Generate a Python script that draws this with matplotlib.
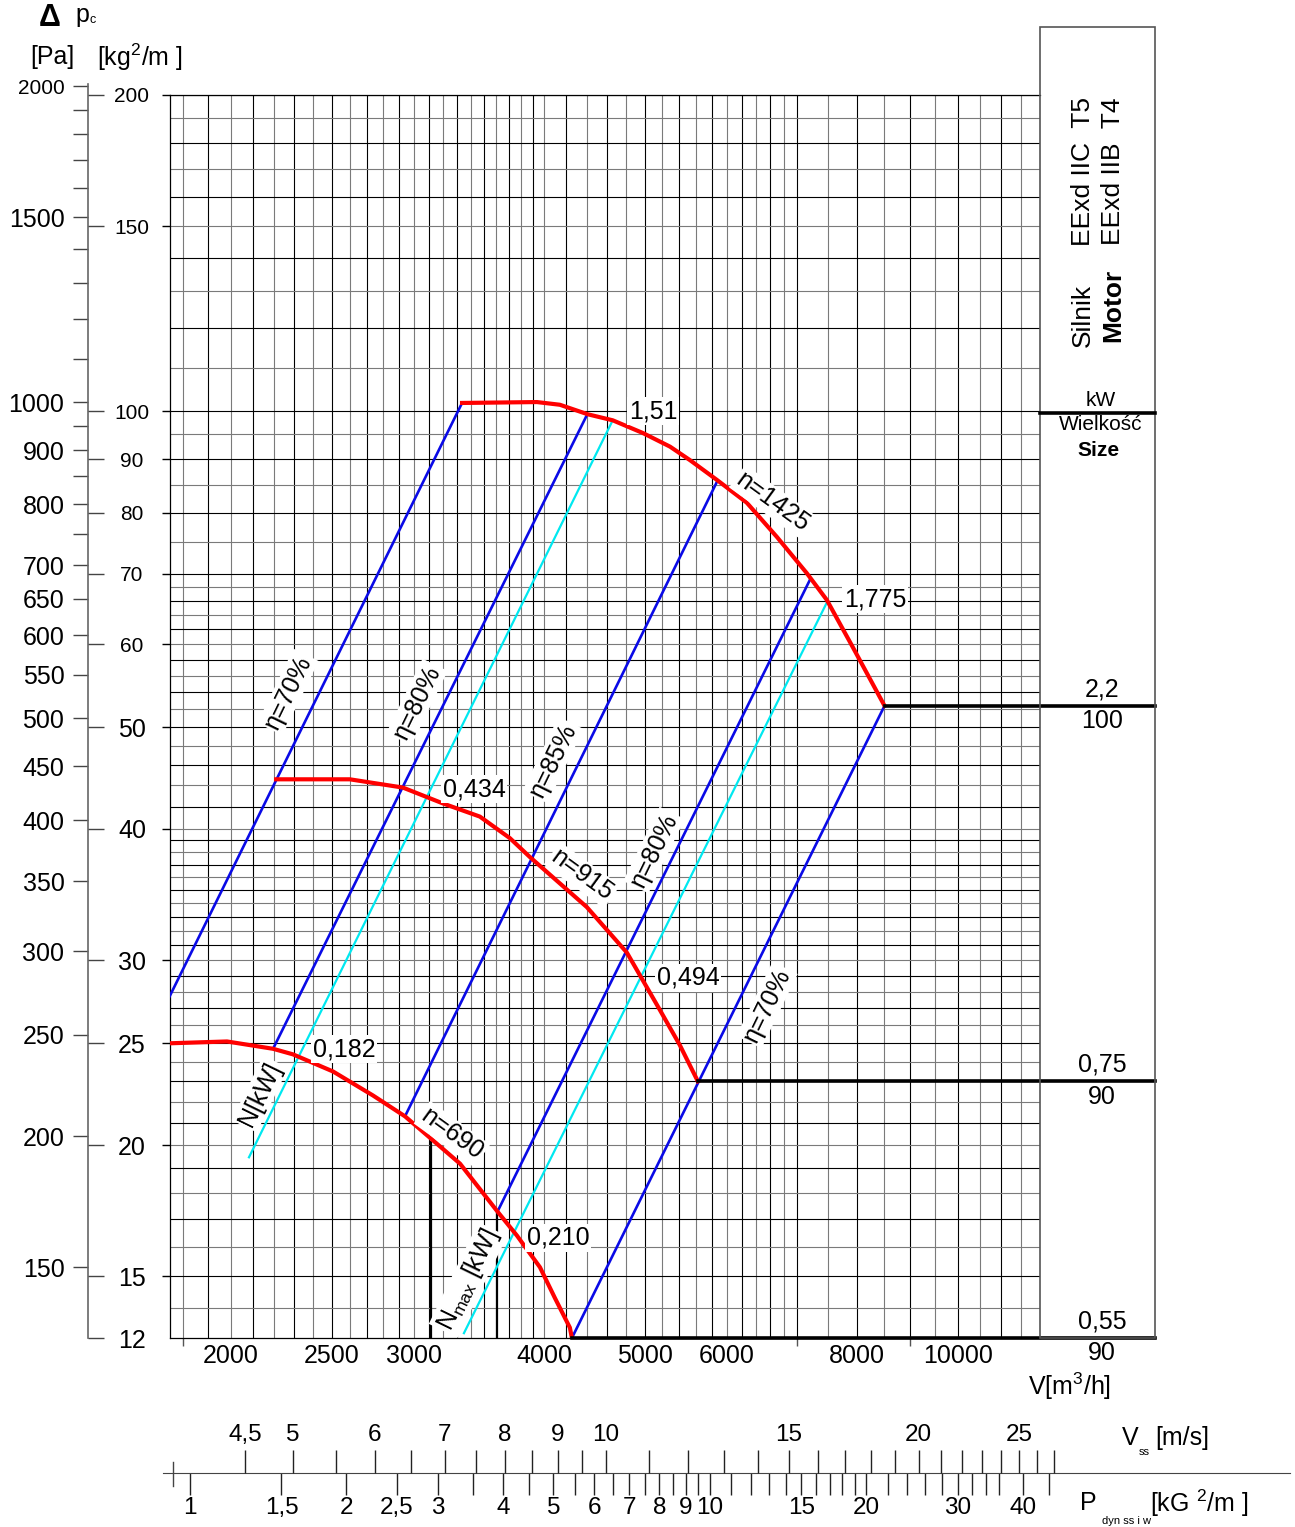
import numpy as np
import matplotlib
matplotlib.use('Agg')
import matplotlib.pyplot as plt
from matplotlib.patches import Rectangle
from matplotlib.lines import Line2D
from matplotlib.ticker import FixedLocator, NullLocator, FixedFormatter, NullFormatter

plt.rcParams['font.family'] = ['Liberation Sans', 'DejaVu Sans']
plt.rcParams['mathtext.fontset'] = 'custom'
plt.rcParams['mathtext.rm'] = 'Liberation Sans'
plt.rcParams['mathtext.it'] = 'Liberation Sans:italic'
plt.rcParams['mathtext.bf'] = 'Liberation Sans:bold'

# --- fan curves: V [m3/h], pc [kg/m2] ---
n1425_v = [3336, 3938, 4143, 4408, 4658, 4980, 5288, 5527, 5866, 6268, 6699, 7158, 7483, 7926, 8504]
n1425_p = [101.8, 102.0, 101.4, 99.3, 98.0, 95.3, 92.5, 89.8, 86.0, 81.8, 75.9, 70.1, 66.1, 59.6, 52.4]

n915_v = [2210, 2602, 2926, 3198, 3470, 3709, 3878, 4398, 4806, 5170, 5404, 5624]
n915_p = [44.6, 44.6, 43.8, 42.3, 41.1, 39.2, 37.6, 33.7, 30.5, 26.9, 24.9, 23.0]

n690_v = [1747, 1982, 2195, 2294, 2507, 2738, 2940, 3129, 3321, 3606, 3767, 3964, 4098, 4236, 4255]
n690_p = [25.0, 25.1, 24.7, 24.4, 23.5, 22.3, 21.3, 20.2, 19.2, 17.3, 16.4, 15.3, 14.3, 13.4, 13.1]

# efficiency lines (blue) and power lines (cyan), end points
eta_lines_v = [[1739, 3336], [2195, 4398], [2940, 5866], [3610, 7205], [4255, 8504]]
eta_lines_p = [[27.5, 101.8], [24.7, 99.1], [21.3, 85.6], [17.3, 69.0], [13.1, 52.4]]
pow_lines_v = [[2081, 4648], [3350, 7483]]
pow_lines_p = [[19.47, 97.6], [13.24, 65.7]]

# Nmax markers
nmax_v = [3114, 3606]
nmax_p = [20.2, 17.3]

# motor rows
motor_v = [8504, 5624, 4255]
motor_p = [52.4, 23.0, 13.1]
motor_kw = ['2,2', '0,75', '0,55']
motor_size = ['100', '90', '90']

# axes
V_MIN, V_MAX = 1747, 12000
P_MIN, P_MAX = 13.1, 200          # bottom edge is labelled "12" on the original
x_labels = [2000, 2500, 3000, 4000, 5000, 6000, 8000, 10000]
x_small_ticks = [1800, 5000, 7000, 9000]
kg_ticks = [15, 20, 25, 30, 40, 50, 60, 70, 80, 90, 100, 150, 200]
pa_ticks = [2000, 1900, 1800, 1700, 1600, 1500, 1400, 1300, 1200, 1100, 1000, 950, 900,
            850, 800, 750, 700, 650, 600, 550, 500, 450, 400, 350, 300, 250, 200, 150]
pa_labeled = [2000, 1500, 1000, 900, 800, 700, 650, 600, 550, 500, 450, 400, 350, 300, 250, 200, 150]
grid_v = list(range(1800, 4001, 100)) + list(range(4200, 7001, 200)) + list(range(7500, 11501, 500))
grid_p = list(range(14, 41)) + list(range(42, 71, 2)) + [75, 80, 85, 90, 95] + list(range(100, 201, 10))

# bottom scales
VSS_REF = 458.5      # m3/h per 1 m/s
PDYN_REF = 1826      # m3/h at 1 kG/m2
vss_ticks = list(np.arange(4.5, 10.01, 0.5)) + list(range(11, 28))
vss_labels = {4.5: '4,5', 5: '5', 6: '6', 7: '7', 8: '8', 9: '9', 10: '10', 15: '15', 20: '20', 25: '25'}
pdyn_ticks = list(np.arange(1, 10.01, 0.5)) + list(range(11, 21)) + list(range(22, 37, 2)) + [40, 45]
pdyn_labels = {1: '1', 1.5: '1,5', 2: '2', 2.5: '2,5', 3: '3', 4: '4', 5: '5', 6: '6', 7: '7',
               8: '8', 9: '9', 10: '10', 15: '15', 20: '20', 30: '30', 40: '40'}

W, H = 1295, 1527
fig = plt.figure(figsize=(W / 100, H / 100), dpi=100)


def fx(px):
    return px / W


def fy(py):
    return 1 - py / H


AX_L, AX_R, AX_T, AX_B = 170, 1040, 95, 1338
DX = np.log10(V_MAX / V_MIN) / (AX_R - AX_L)
DY = np.log10(P_MAX / P_MIN) / (AX_B - AX_T)


def v_at(px):
    return V_MIN * 10 ** ((px - AX_L) * DX)


def p_at(py):
    return P_MIN * 10 ** ((AX_B - py) * DY)


def put(x, y, s, size=18, **kw):
    kw.setdefault('ha', 'center')
    kw.setdefault('va', 'center')
    return fig.text(fx(x), fy(y), s, fontsize=size, **kw)


WB = dict(fc='white', ec='none', pad=1.5)

# ---------------- main chart ----------------
ax = fig.add_axes([fx(AX_L), fy(AX_B), (AX_R - AX_L) / W, (AX_B - AX_T) / H])
ax.set_xscale('log')
ax.set_yscale('log')
ax.set_xlim(V_MIN, V_MAX)
ax.set_ylim(P_MIN, P_MAX)

for i, v in enumerate(grid_v):
    ax.axvline(v, color='#000000' if i % 2 else '#7a7a7a', lw=0.8, zorder=1)
for i, p in enumerate(grid_p):
    ax.axhline(p, color='#000000' if i % 2 else '#7a7a7a', lw=0.8, zorder=1)

ax.xaxis.set_major_locator(FixedLocator(x_labels))
ax.xaxis.set_major_formatter(FixedFormatter([str(v) for v in x_labels]))
ax.xaxis.set_minor_locator(FixedLocator(x_small_ticks))
ax.xaxis.set_minor_formatter(NullFormatter())
ax.tick_params(axis='x', which='major', length=0, pad=4, labelsize=18)
ax.tick_params(axis='x', which='minor', length=6, width=1, color='#555555')
ax.yaxis.set_major_locator(FixedLocator(kg_ticks))
ax.yaxis.set_minor_locator(NullLocator())
ax.tick_params(axis='y', which='major', length=6, width=1, labelleft=False)
for s in ['top', 'left', 'bottom']:
    ax.spines[s].set_linewidth(0.9)
ax.spines['right'].set_visible(False)

for vv, pp in zip(eta_lines_v, eta_lines_p):
    ax.plot(vv, pp, color='#0a0ae6', lw=1.9, zorder=3)
for vv, pp in zip(pow_lines_v, pow_lines_p):
    ax.plot(vv, pp, color='#00e8f0', lw=1.6, zorder=3)
for vv, pp in [(n1425_v, n1425_p), (n915_v, n915_p), (n690_v, n690_p)]:
    ax.plot(vv, pp, color='#ff0000', lw=3.0, zorder=4, solid_joinstyle='round')
ax.vlines(nmax_v, P_MIN, nmax_p, colors='k', lw=1.6, zorder=2)

BOX_R = 1155
for v0, p0 in zip(motor_v, motor_p):
    ax.plot([v0, v_at(BOX_R)], [p0, p0], color='k', lw=2.6, zorder=5, clip_on=False)

put(1070, 1386, r'V[m$^3$/h]')

# ---------------- pressure scales on the left ----------------
PA_T = 84
ax_pa = fig.add_axes([fx(88), fy(AX_B), 0.0001, (AX_B - PA_T) / H])
ax_pa.set_yscale('log')
ax_pa.set_ylim(P_MIN, p_at(PA_T))
for s in ['top', 'right', 'bottom']:
    ax_pa.spines[s].set_visible(False)
ax_pa.spines['left'].set_color('#666666')
ax_pa.spines['left'].set_linewidth(1.2)
ax_pa.xaxis.set_visible(False)
ax_pa.yaxis.set_major_locator(FixedLocator([pa / 9.81 for pa in pa_ticks]))
ax_pa.yaxis.set_major_formatter(FixedFormatter([str(pa) if pa in pa_labeled else '' for pa in pa_ticks]))
ax_pa.yaxis.set_minor_locator(NullLocator())
ax_pa.tick_params(axis='y', length=11, width=1, color='#444444', pad=6, labelsize=18)
for lab, pa in zip(ax_pa.get_yticklabels(), pa_ticks):
    if pa == 2000:
        lab.set_fontsize(15)

ax_kg = ax_pa.twinx()
ax_kg.set_yscale('log')
ax_kg.set_ylim(P_MIN, p_at(PA_T))
for s in ['top', 'left', 'bottom', 'right']:
    ax_kg.spines[s].set_visible(False)
ax_kg.xaxis.set_visible(False)
kg_all = [P_MIN] + kg_ticks
ax_kg.yaxis.set_major_locator(FixedLocator(kg_all))
ax_kg.yaxis.set_major_formatter(FixedFormatter(['12'] + [str(k) for k in kg_ticks]))
ax_kg.yaxis.set_minor_locator(NullLocator())
ax_kg.tick_params(axis='y', length=11.5, width=1, color='#444444', pad=20, labelsize=18)
for lab, k in zip(ax_kg.get_yticklabels(), kg_all):
    lab.set_horizontalalignment('center')
    if k >= 60:
        lab.set_fontsize(15)

put(50, 18, 'Δ', size=22, weight='bold')
put(82, 15, 'p', size=18)
put(93, 20, 'c', size=9)
put(52, 57, '[Pa]')
put(97, 57, r'[kg$^2$/m ]', ha='left')

# ---------------- motor box on the right ----------------
fig.patches.append(Rectangle((fx(AX_R), fy(AX_B)), (BOX_R - AX_R) / W, (AX_B - 27) / H,
                             transform=fig.transFigure, fill=False, ec='#555555', lw=1.2))
fig.lines.append(Line2D([fx(AX_R), fx(BOX_R)], [fy(413), fy(413)], transform=fig.transFigure,
                        color='k', lw=2.6))
put(1083, 171, 'EExd IIC  T5', size=19, rotation=90)
put(1113, 171, 'EExd IIB  T4', size=19, rotation=90)
put(1083, 315, 'Silnik', size=19, rotation=90)
put(1113, 305, 'Motor', size=19, rotation=90, weight='bold')
put(1101, 400, 'kW', size=15)
put(1101, 425, 'Wielkość', size=15)
put(1098, 451, 'Size', size=15, weight='bold')
for p0, kw_, sz in zip(motor_p, motor_kw, motor_size):
    ax.annotate(kw_, (v_at(1102), p0), xytext=(0, 12), textcoords='offset points',
                ha='center', va='center', fontsize=18, annotation_clip=False)
    ax.annotate(sz, (v_at(1102), p0), xytext=(0, -11), textcoords='offset points',
                ha='center', va='center', fontsize=18, annotation_clip=False)

# ---------------- curve labels ----------------
put(653, 411, '1,51', bbox=WB)
put(875, 599, '1,775', bbox=WB)
put(474, 789, '0,434', bbox=WB)
put(688, 978, '0,494', bbox=WB)
put(344, 1049, '0,182', bbox=WB)
put(558, 1238, '0,210', bbox=WB)
put(773, 502, 'n=1425', rotation=-36, bbox=WB)
put(582, 875, 'n=915', rotation=-36, bbox=WB)
put(452, 1134, 'n=690', rotation=-36, bbox=WB)
for x, y, s in [(288, 692, 'η=70%'), (417, 702, 'η=80%'), (553, 760, 'η=85%'),
                (654, 850, 'η=80%'), (767, 1005, 'η=70%')]:
    put(x, y, s, rotation=64, bbox=WB)
put(260, 1094, 'N[kW]', rotation=64, bbox=WB)
put(468, 1280, r'N$_{\rm max}$ [kW]', rotation=64, bbox=WB)

# ---------------- velocity / dynamic pressure scales ----------------
S_L, S_R, S_Y = 163, 1290, 1473
ax_s = fig.add_axes([fx(S_L), fy(S_Y), (S_R - S_L) / W, 0.0001])
ax_s.set_xscale('log')
ax_s.set_xlim(v_at(S_L), v_at(S_R))
for s in ['top', 'left', 'right']:
    ax_s.spines[s].set_visible(False)
ax_s.spines['bottom'].set_color('#444444')
ax_s.yaxis.set_visible(False)
ax_s.xaxis.set_major_locator(FixedLocator([PDYN_REF * np.sqrt(p) for p in pdyn_ticks]))
ax_s.xaxis.set_major_formatter(FixedFormatter([pdyn_labels.get(round(p, 1), '') for p in pdyn_ticks]))
ax_s.xaxis.set_minor_locator(NullLocator())
ax_s.tick_params(axis='x', length=16, width=1, color='#222222', pad=1, labelsize=17.5)

ax_v = ax_s.twiny()
ax_v.set_xscale('log')
ax_v.set_xlim(v_at(S_L), v_at(S_R))
for s in ['top', 'left', 'right', 'bottom']:
    ax_v.spines[s].set_visible(False)
ax_v.yaxis.set_visible(False)
ax_v.xaxis.set_major_locator(FixedLocator([VSS_REF * v for v in vss_ticks]))
ax_v.xaxis.set_major_formatter(FixedFormatter([vss_labels.get(round(v, 1), '') for v in vss_ticks]))
ax_v.xaxis.set_minor_locator(NullLocator())
ax_v.tick_params(axis='x', length=16.5, width=1, color='#222222', pad=3, labelsize=17.5)

fig.lines.append(Line2D([fx(173), fx(173)], [fy(1462), fy(1486)], transform=fig.transFigure,
                        color='#444444', lw=1))

put(1130, 1438, 'V', size=18)
put(1144, 1452, 'ss', size=8)
put(1155, 1438, '[m/s]', ha='left')
put(1088, 1503, 'P', size=18)
put(1126, 1521, 'dyn ss i w', size=8)
put(1150, 1503, r'[kG $^2$/m ]', ha='left')

fig.savefig('out.png', dpi=100)
